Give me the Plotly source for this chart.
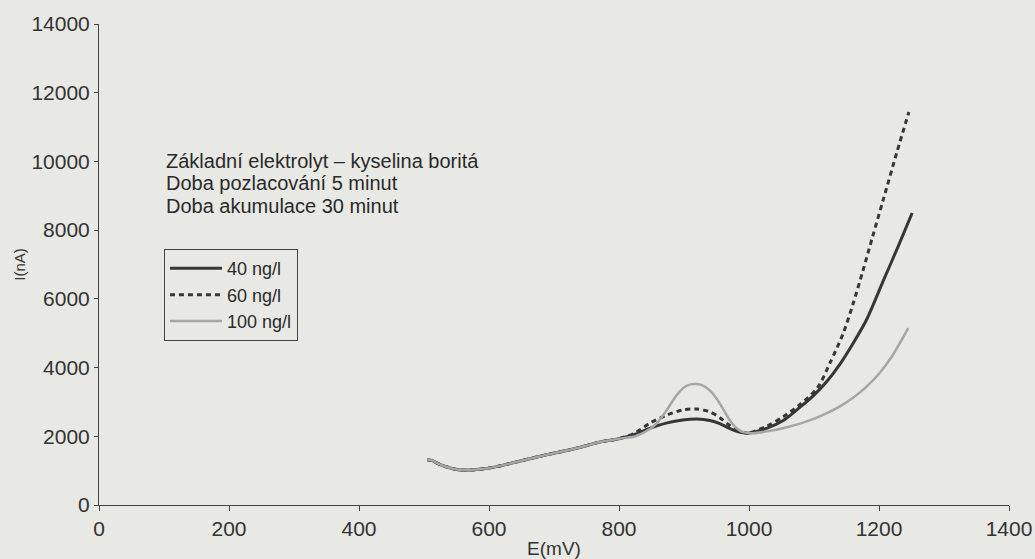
import plotly.graph_objects as go

# Shared start of the three voltammograms (E in mV, I in nA)
e_common = [505, 512, 520, 535, 555, 580, 610, 650, 690, 730, 771, 800]
i_common = [1310, 1300, 1220, 1106, 1020, 1030, 1110, 1290, 1470, 1630, 1834, 1930]

# 40 ng/l
e_40 = [825, 848, 874, 898, 920, 940, 955, 970, 985, 998, 1028, 1052, 1078, 1100, 1120,
        1140, 1160, 1181, 1206, 1230, 1251]
i_40 = [2060, 2240, 2390, 2475, 2505, 2460, 2370, 2230, 2120, 2090, 2240, 2450, 2840, 3200, 3600,
        4100, 4700, 5400, 6500, 7550, 8500]

# 60 ng/l
e_60 = [825, 848, 874, 898, 920, 940, 955, 970, 985, 998, 1028, 1052, 1078, 1105, 1125,
        1145, 1160, 1175, 1190, 1206, 1228, 1246]
i_60 = [2100, 2390, 2620, 2765, 2795, 2710, 2540, 2320, 2150, 2095, 2300, 2560, 2920, 3400, 4150,
        5000, 5850, 6800, 7800, 8850, 10300, 11440]

# 100 ng/l
e_100 = [825, 848, 860, 874, 888, 900, 910, 920, 930, 940, 950, 960, 970, 980, 991, 1005, 1030, 1060,
         1090, 1115, 1140, 1160, 1180, 1200, 1220, 1245]
i_100 = [2000, 2220, 2420, 2780, 3180, 3420, 3510, 3520, 3470, 3330, 3100, 2800, 2480, 2250, 2120, 2090, 2150, 2270,
         2440, 2630, 2870, 3120, 3430, 3820, 4330, 5150]

series_names = ["40 ng/l", "60 ng/l", "100 ng/l"]
info_lines = ["Základní elektrolyt – kyselina boritá",
              "Doba pozlacování 5 minut",
              "Doba akumulace 30 minut"]
x_ticks = [0, 200, 400, 600, 800, 1000, 1200, 1400]
y_ticks = [0, 2000, 4000, 6000, 8000, 10000, 12000, 14000]

FONT = "Liberation Sans, Arial, sans-serif"
BG = "#e8e8e5"
DARK = "#363636"
GRAY = "#a6a6a6"

fig = go.Figure()
fig.add_trace(go.Scatter(x=e_common + e_40, y=i_common + i_40, mode="lines", name=series_names[0],
                         line=dict(color=DARK, width=3, shape="spline", smoothing=0.8)))
fig.add_trace(go.Scatter(x=e_common + e_60, y=i_common + i_60, mode="lines", name=series_names[1],
                         line=dict(color=DARK, width=3, dash="5px,4px", shape="spline", smoothing=0.8)))
fig.add_trace(go.Scatter(x=e_common + e_100, y=i_common + i_100, mode="lines", name=series_names[2],
                         line=dict(color=GRAY, width=2.5, shape="spline", smoothing=0.8)))

line_y = [0.7162, 0.6684, 0.6206]
for txt, yy in zip(info_lines, line_y):
    fig.add_annotation(text=txt, xref="paper", yref="paper", x=0.0725, y=yy,
                       xanchor="left", yanchor="middle", showarrow=False, borderpad=0,
                       font=dict(family=FONT, size=20, color="#2a2a2a"))

fig.update_layout(
    width=1035, height=559,
    margin=dict(l=99, r=26, t=24, b=54),
    paper_bgcolor=BG, plot_bgcolor=BG,
    font=dict(family=FONT, color="#2a2a2a"),
    showlegend=True,
    legend=dict(x=0.0714, y=0.532, xanchor="left", yanchor="top",
                bordercolor="#444444", borderwidth=1, bgcolor="rgba(0,0,0,0)",
                font=dict(family=FONT, size=18, color="#2a2a2a"),
                itemwidth=52, entrywidth=100, entrywidthmode="pixels",
                tracegroupgap=0),
)
fig.update_xaxes(range=[0, 1400], tickvals=x_ticks, tickformat="d", showline=True, linecolor="#444444",
                 linewidth=1, ticks="outside", ticklen=5, tickcolor="#444444", showgrid=False, zeroline=False,
                 automargin=False,
                 tickfont=dict(size=21, family=FONT, color="#333333"),
                 title=dict(text="E(mV)", font=dict(size=19, family=FONT, color="#333333"), standoff=2))
fig.update_yaxes(range=[0, 14000], tickvals=y_ticks, tickformat="d", showline=True, linecolor="#444444",
                 linewidth=1, ticks="outside", ticklen=4, tickcolor="#444444", showgrid=False, zeroline=False,
                 automargin=False,
                 tickfont=dict(size=21, family=FONT, color="#333333"),
                 title=dict(text="I(nA)", font=dict(size=15, family=FONT, color="#333333"), standoff=2))

fig.write_html("out.html")
